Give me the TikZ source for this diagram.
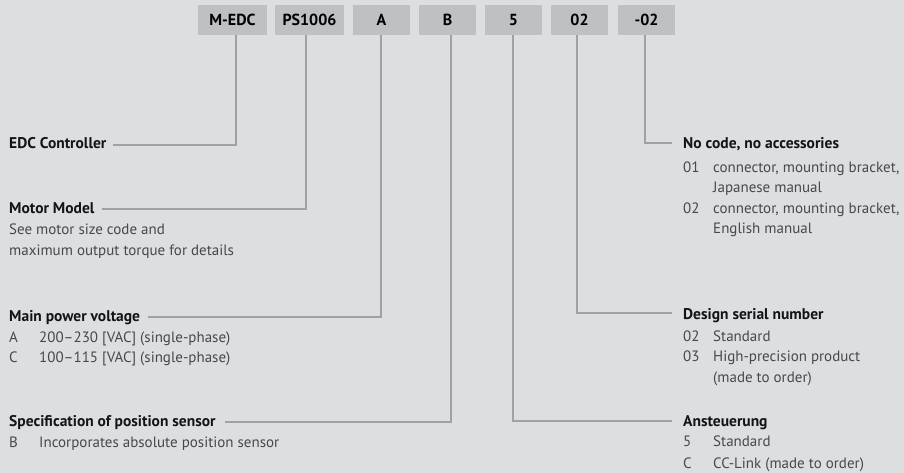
\documentclass[tikz,border=0pt]{standalone}
\usepackage{fontspec}
\setmainfont{PT Sans}
\begin{document}
\begin{tikzpicture}[x=1pt,y=-1pt,
  codebox/.style={fill=boxgray,minimum height=30pt,inner sep=0pt,font=\fontsize{16}{18}\selectfont\bfseries,text=black},
  ttl/.style={anchor=base west,inner sep=0pt,font=\fontsize{15.5}{18}\selectfont\bfseries,text=titlecol},
  itm/.style={anchor=base west,inner sep=0pt,font=\fontsize{15}{18}\selectfont,text=itemcol},
  conn/.style={draw=linegray,line width=2pt}]
\definecolor{bg}{RGB}{221,222,224}
\definecolor{boxgray}{RGB}{191,192,194}
\definecolor{linegray}{RGB}{160,161,163}
\definecolor{titlecol}{RGB}{20,20,20}
\definecolor{itemcol}{RGB}{72,72,74}
\fill[bg] (0,0) rectangle (904,473);
\useasboundingbox (0,0) rectangle (904,473);
% code boxes
\node[codebox,minimum width=69pt] (b1) at (232.5,20) {M-EDC};
\node[codebox,minimum width=69pt] (b2) at (309.5,20) {PS1006};
\node[codebox,minimum width=57pt] (b3) at (381.5,20) {A};
\node[codebox,minimum width=57pt] (b4) at (447.5,20) {B};
\node[codebox,minimum width=57pt] (b5) at (513.5,20) {5};
\node[codebox,minimum width=57pt] (b6) at (579.5,20) {02};
\node[codebox,minimum width=57pt] (b7) at (646.5,20) {-02};
% left titles
\node[ttl] (t1) at (9,149) {EDC Controller};
\node[ttl] (t2) at (9,213) {Motor Model};
\node[itm] (t2a) at (9,234) {See motor size code and};
\node[itm] (t2b) at (9,255) {maximum output torque for details};
\node[ttl] (t3) at (9,321) {Main power voltage};
\node[itm] (t3a) at (9,342) {A};
\node[itm] (t3ad) at (39,342) {200–230 [VAC] (single-phase)};
\node[itm] (t3b) at (9,362) {C};
\node[itm] (t3bd) at (39,362) {100–115 [VAC] (single-phase)};
\node[ttl] (t4) at (9,426) {Specification of position sensor};
\node[itm] (t4a) at (9,447) {B};
\node[itm] (t4ad) at (39,447) {Incorporates absolute position sensor};
% right titles
\node[ttl] (t7) at (683,149) {No code, no accessories};
\node[itm] (t7a) at (683,173) {01};
\node[itm] (t7ad) at (713,173) {connector, mounting bracket,};
\node[itm] (t7ae) at (713,193) {Japanese manual};
\node[itm] (t7b) at (683,213) {02};
\node[itm] (t7bd) at (713,213) {connector, mounting bracket,};
\node[itm] (t7be) at (713,233) {English manual};
\node[ttl] (t6) at (683,319) {Design serial number};
\node[itm] (t6a) at (683,341) {02};
\node[itm] (t6ad) at (713,341) {Standard};
\node[itm] (t6b) at (683,361) {03};
\node[itm] (t6bd) at (713,361) {High-precision product};
\node[itm] (t6be) at (713,382) {(made to order)};
\node[ttl] (t5) at (683,426) {Ansteuerung};
\node[itm] (t5a) at (683,446) {5};
\node[itm] (t5ad) at (713,446) {Standard};
\node[itm] (t5b) at (683,468) {C};
\node[itm] (t5bd) at (713,468) {CC-Link (made to order)};
% connectors
\draw[conn] ([xshift=3.5pt]b1.south) |- ([xshift=6pt,yshift=4pt]t1.base east);
\draw[conn] ([xshift=-3.5pt]b2.south) |- ([xshift=7pt,yshift=4pt]t2.base east);
\draw[conn] ([xshift=-0.5pt]b3.south) |- ([xshift=8pt,yshift=4pt]t3.base east);
\draw[conn] ([xshift=3.5pt]b4.south) |- ([xshift=9pt,yshift=4pt]t4.base east);
\draw[conn] ([xshift=-0.5pt]b5.south) |- ([xshift=-11pt,yshift=5pt]t5.base west);
\draw[conn] ([xshift=-2.5pt]b6.south) |- ([xshift=-11pt,yshift=6pt]t6.base west);
\draw[conn] ([xshift=-1.5pt]b7.south) |- ([xshift=-11pt,yshift=6pt]t7.base west);
\end{tikzpicture}
\end{document}
